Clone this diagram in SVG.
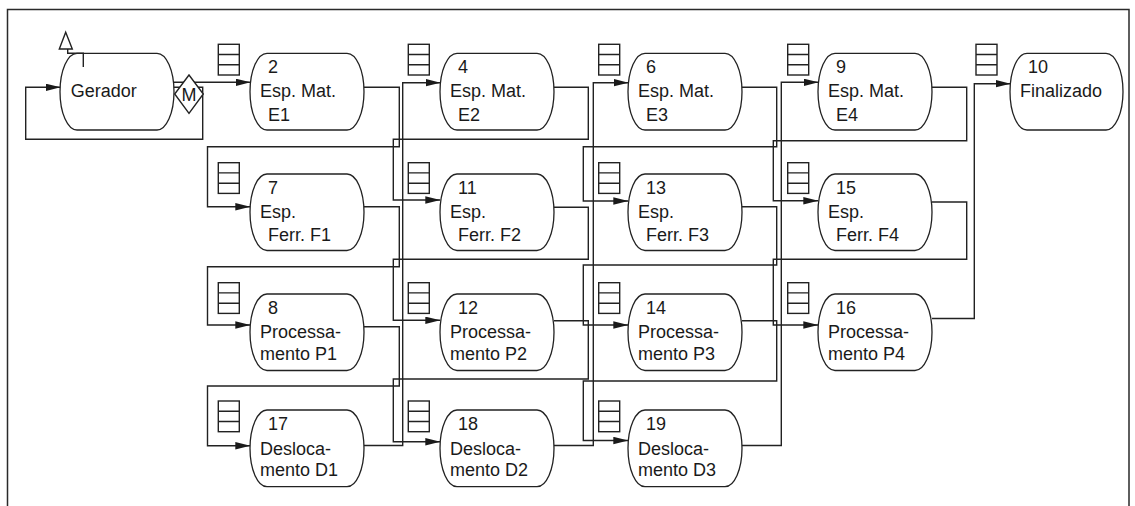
<svg xmlns="http://www.w3.org/2000/svg" xmlns:xlink="http://www.w3.org/1999/xlink" width="1135" height="506" viewBox="0 0 1135 506">
<style>
.frame{fill:none;stroke:#2a2a2a;stroke-width:1.5}
.c{fill:none;stroke:#222;stroke-width:1.4}
.a{marker-end:url(#arr)}
.n{fill:#fff;stroke:#222;stroke-width:1.3}
.q{fill:#fff;stroke:#222;stroke-width:1.4}
.t{font-family:"Liberation Sans",Arial,Helvetica,sans-serif;font-size:18px;fill:#1a1a1a}
</style>
<defs>
<marker id="arr" markerUnits="userSpaceOnUse" markerWidth="16" markerHeight="8" refX="15" refY="3.7" orient="auto">
<path d="M0,0 L15,3.7 L0,7.4 Z" fill="#1a1a1a"/>
</marker>
<g id="qi" class="q"><rect x="0" y="0" width="21" height="30.7"/><path d="M0,10.2H21M0,20.5H21"/></g>
</defs>
<rect x="0" y="0" width="1135" height="506" fill="#fff"/>
<path class="frame" d="M7.5,506 V9.5 H1129 V506"/>

<g id="connectors">
<!-- Gerador -->
<path class="c a" d="M173.5,82.3 H250.5"/>
<path class="c a" d="M173.5,87.3 H202.7 V139.3 H25.7 V87.3 H60.5"/>
<!-- column 1 outputs -->
<path class="c a" d="M364,87.3 H399.3 V146.7 H207.5 V206.7 H250.3"/>
<path class="c a" d="M364,206.7 H399.3 V266.7 H207.5 V325 H250.3"/>
<path class="c a" d="M364,326.7 H399.3 V386 H207.5 V445.7 H250.3"/>
<path class="c a" d="M364,445.5 H402.7 V82.7 H440.5"/>
<!-- column 2 outputs -->
<path class="c a" d="M554,87.3 H588.3 V139.3 H393.3 V200 H440.3"/>
<path class="c a" d="M554,207.3 H588.3 V259.3 H393.3 V320.3 H440.3"/>
<path class="c a" d="M554,320.7 H588.3 V379 H393.3 V441.7 H440.3"/>
<path class="c a" d="M554,445.5 H593.3 V82.7 H628.5"/>
<!-- column 3 outputs -->
<path class="c a" d="M742,87.3 H776.7 V146.7 H583.3 V201 H628.3"/>
<path class="c a" d="M742,206.7 H776.7 V265 H583.3 V325 H628.3"/>
<path class="c a" d="M742,320.7 H776.7 V381 H583.3 V440.5 H628.3"/>
<path class="c a" d="M742,445.5 H781.3 V82.3 H818.5"/>
<!-- column 4 outputs -->
<path class="c a" d="M932,87.3 H966.7 V140.7 H773.3 V200.7 H818.3"/>
<path class="c a" d="M932,202 H966.7 V259.3 H773.3 V325 H818.3"/>
<path class="c a" d="M932,318.5 H974.3 V83.7 H1010.5"/>
</g>

<g id="node-gerador">
<path class="q" d="M65.7,32.3 L72.3,49 L59.3,49 Z"/>
<rect class="n" x="60" y="53.3" width="114" height="76.7" rx="17" ry="38.35"/>
<path class="c" d="M67.7,49 V53.3 H83.3 V67"/>
<text class="t" x="70.7" y="97.3">Gerador</text>
<path class="q" d="M189,75 L203.3,94 L189,113.3 L174.7,94 Z"/>
<text class="t" x="189" y="100.5" text-anchor="middle">M</text>
</g>

<g id="node-2">
<use xlink:href="#qi" x="218.3" y="44.3"/>
<rect class="n" x="250" y="53.3" width="114" height="76.7" rx="17" ry="38.35"/>
<text class="t" x="268" y="73.3">2</text>
<text class="t" x="260" y="97.3">Esp. Mat.</text>
<text class="t" x="268" y="120.5">E1</text>
</g>
<g id="node-4">
<use xlink:href="#qi" x="408.3" y="44.3"/>
<rect class="n" x="440" y="53.3" width="114" height="76.7" rx="17" ry="38.35"/>
<text class="t" x="458" y="73.3">4</text>
<text class="t" x="450" y="97.3">Esp. Mat.</text>
<text class="t" x="458" y="120.5">E2</text>
</g>
<g id="node-6">
<use xlink:href="#qi" x="598.7" y="44.3"/>
<rect class="n" x="628" y="53.3" width="114" height="76.7" rx="17" ry="38.35"/>
<text class="t" x="646" y="73.3">6</text>
<text class="t" x="638" y="97.3">Esp. Mat.</text>
<text class="t" x="646" y="120.5">E3</text>
</g>
<g id="node-9">
<use xlink:href="#qi" x="787.7" y="44.3"/>
<rect class="n" x="818" y="53.3" width="114" height="76.7" rx="17" ry="38.35"/>
<text class="t" x="836" y="73.3">9</text>
<text class="t" x="828" y="97.3">Esp. Mat.</text>
<text class="t" x="836" y="120.5">E4</text>
</g>
<g id="node-10">
<use xlink:href="#qi" x="976" y="44.3"/>
<rect class="n" x="1010" y="53.3" width="113" height="76.7" rx="17" ry="38.35"/>
<text class="t" x="1028" y="73.3">10</text>
<text class="t" x="1020" y="97.3">Finalizado</text>
</g>

<g id="node-7">
<use xlink:href="#qi" x="218.3" y="162.7"/>
<rect class="n" x="250" y="174" width="114" height="76.5" rx="17" ry="38.25"/>
<text class="t" x="268" y="193.5">7</text>
<text class="t" x="260" y="218">Esp.</text>
<text class="t" x="268" y="240.7">Ferr. F1</text>
</g>
<g id="node-11">
<use xlink:href="#qi" x="408.3" y="162.7"/>
<rect class="n" x="440" y="174" width="114" height="76.5" rx="17" ry="38.25"/>
<text class="t" x="458" y="193.5">11</text>
<text class="t" x="450" y="218">Esp.</text>
<text class="t" x="458" y="240.7">Ferr. F2</text>
</g>
<g id="node-13">
<use xlink:href="#qi" x="598.7" y="162.7"/>
<rect class="n" x="628" y="174" width="114" height="76.5" rx="17" ry="38.25"/>
<text class="t" x="646" y="193.5">13</text>
<text class="t" x="638" y="218">Esp.</text>
<text class="t" x="646" y="240.7">Ferr. F3</text>
</g>
<g id="node-15">
<use xlink:href="#qi" x="787.7" y="162.7"/>
<rect class="n" x="818" y="174" width="114" height="76.5" rx="17" ry="38.25"/>
<text class="t" x="836" y="193.5">15</text>
<text class="t" x="828" y="218">Esp.</text>
<text class="t" x="836" y="240.7">Ferr. F4</text>
</g>

<g id="node-8">
<use xlink:href="#qi" x="218.3" y="282.7"/>
<rect class="n" x="250" y="294" width="114" height="76.5" rx="17" ry="38.25"/>
<text class="t" x="268" y="313.5">8</text>
<text class="t" x="260" y="338">Processa-</text>
<text class="t" x="260" y="360">mento P1</text>
</g>
<g id="node-12">
<use xlink:href="#qi" x="408.3" y="282.7"/>
<rect class="n" x="440" y="294" width="114" height="76.5" rx="17" ry="38.25"/>
<text class="t" x="458" y="313.5">12</text>
<text class="t" x="450" y="338">Processa-</text>
<text class="t" x="450" y="360">mento P2</text>
</g>
<g id="node-14">
<use xlink:href="#qi" x="598.7" y="282.7"/>
<rect class="n" x="628" y="294" width="114" height="76.5" rx="17" ry="38.25"/>
<text class="t" x="646" y="313.5">14</text>
<text class="t" x="638" y="338">Processa-</text>
<text class="t" x="638" y="360">mento P3</text>
</g>
<g id="node-16">
<use xlink:href="#qi" x="787.7" y="282.7"/>
<rect class="n" x="818" y="294" width="114" height="76.5" rx="17" ry="38.25"/>
<text class="t" x="836" y="313.5">16</text>
<text class="t" x="828" y="338">Processa-</text>
<text class="t" x="828" y="360">mento P4</text>
</g>

<g id="node-17">
<use xlink:href="#qi" x="218.3" y="401"/>
<rect class="n" x="250" y="410" width="114" height="76.7" rx="17" ry="38.35"/>
<text class="t" x="268" y="430">17</text>
<text class="t" x="260" y="455">Desloca-</text>
<text class="t" x="260" y="476">mento D1</text>
</g>
<g id="node-18">
<use xlink:href="#qi" x="408.3" y="401"/>
<rect class="n" x="440" y="410" width="114" height="76.7" rx="17" ry="38.35"/>
<text class="t" x="458" y="430">18</text>
<text class="t" x="450" y="455">Desloca-</text>
<text class="t" x="450" y="476">mento D2</text>
</g>
<g id="node-19">
<use xlink:href="#qi" x="598.7" y="401"/>
<rect class="n" x="628" y="410" width="114" height="76.7" rx="17" ry="38.35"/>
<text class="t" x="646" y="430">19</text>
<text class="t" x="638" y="455">Desloca-</text>
<text class="t" x="638" y="476">mento D3</text>
</g>
</svg>
